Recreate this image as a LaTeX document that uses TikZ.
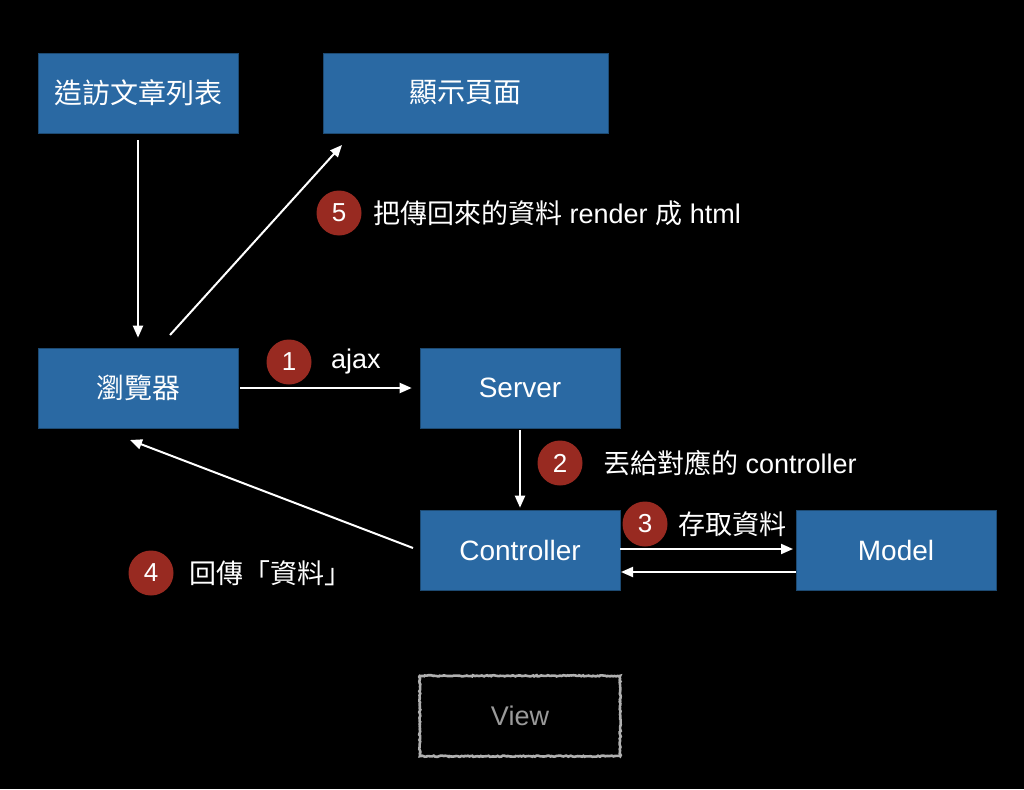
\documentclass[tikz,border=0pt]{standalone}
\usepackage{fontspec}
\setmainfont{Liberation Sans}
\newfontfamily\cjk{Noto Sans CJK TC}
\usetikzlibrary{arrows.meta,decorations.pathmorphing}
\definecolor{boxblue}{HTML}{2A69A3}
\definecolor{numred}{HTML}{982A21}
\definecolor{viewgray}{HTML}{B0B0B0}
\definecolor{viewtext}{HTML}{9A9A9A}
\begin{document}
\begin{tikzpicture}[x=1pt,y=-1pt,
  box/.style={rectangle,fill=boxblue,draw=boxblue!70!black,line width=0.6pt,minimum width=200pt,minimum height=80pt,inner sep=0pt,text=white,font=\fontsize{28}{32}\selectfont},
  num/.style={circle,fill=numred,minimum size=45pt,inner sep=0pt,text=white,font=\fontsize{26}{30}\selectfont},
  lbl/.style={anchor=west,inner sep=0pt,text=white,font=\fontsize{27}{31}\selectfont},
  arr/.style={draw=white,line width=2pt,-{Triangle[length=12pt,width=10pt]}}]
\fill[black] (0,0) rectangle (1024,789);
\useasboundingbox (0,0) rectangle (1024,789);
% boxes
\node[box] (visit) at (138,93) {\cjk 造訪文章列表};
\node[box,minimum width=285pt] (show) at (465.5,93) {\cjk 顯示頁面};
\node[box] (browser) at (138,388) {\cjk 瀏覽器};
\node[box] (server) at (520,388) {Server};
\node[box] (ctrl) at (520,550) {Controller};
\node[box] (model) at (896,550) {Model};
\node[rectangle,minimum width=200pt,minimum height=80pt,inner sep=0pt,text=viewtext,font=\fontsize{27}{31}\selectfont] (view) at (520,716) {View};
\draw[viewgray,line width=2.6pt,decorate,decoration={random steps,segment length=1.5pt,amplitude=0.6pt}] (view.north west) rectangle (view.south east);
% connector end points
\coordinate (b5s) at (170,335);
\coordinate (b5e) at (342,145);
\coordinate (c4s) at (413,548);
\coordinate (c4e) at (130,440);
\coordinate (cm1) at (620,549);
\coordinate (cm2) at (793,549);
\coordinate (mc1) at (796,572);
\coordinate (mc2) at (621,572);
% connectors
\draw[arr,shorten <=7pt,shorten >=10pt] (visit) -- (browser);
\draw[arr] (b5s) -- (b5e);
\draw[arr,shorten <=2pt,shorten >=8pt] (browser) -- (server);
\draw[arr,shorten <=2pt,shorten >=2pt] (server) -- (ctrl);
\draw[arr] (c4s) -- (c4e);
\draw[arr] (cm1) -- (cm2);
\draw[arr] (mc1) -- (mc2);
% labels
\node[num] (n5) at (339,213) {5};
\node[lbl] (t5) at (373,213) {{\cjk 把傳回來的資料} render {\cjk 成} html};
\node[num] (n1) at (289,362) {1};
\node[lbl] (t1) at (331,362) {ajax};
\node[num] (n2) at (560,463) {2};
\node[lbl] (t2) at (603,463) {{\cjk 丟給對應的} controller};
\node[num] (n3) at (645,524) {3};
\node[lbl] (t3) at (678,524) {\cjk 存取資料};
\node[num] (n4) at (151,573) {4};
\node[lbl] (t4) at (189,573) {\cjk 回傳「資料」};
\end{tikzpicture}
\end{document}
